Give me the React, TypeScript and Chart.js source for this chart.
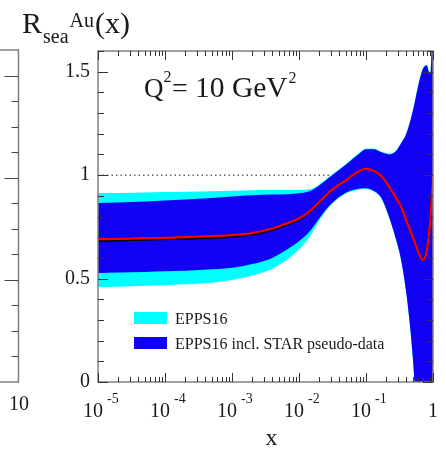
import React, { useEffect, useRef } from 'react';
import { Chart, registerables } from 'chart.js';

Chart.register(...registerables);

// x values (Bjorken x)
const xValues = [1e-5, 2e-5, 5e-5, 1e-4, 2e-4, 5e-4, 1e-3, 2e-3, 4e-3, 7e-3, 0.01, 0.015, 0.02, 0.03, 0.05, 0.08, 0.1, 0.13, 0.17, 0.22, 0.28, 0.33, 0.4, 0.5, 0.6, 0.7, 0.8, 0.9, 0.95, 1.0];

// central value EPPS16 incl. STAR (red)
const centralStar = [0.69, 0.692, 0.695, 0.697, 0.7, 0.705, 0.71, 0.72, 0.742, 0.77, 0.79, 0.83, 0.87, 0.925, 0.975, 1.02, 1.03, 1.02, 0.995, 0.945, 0.89, 0.85, 0.78, 0.7, 0.63, 0.59, 0.63, 0.76, 0.87, 1.0];
// central value EPPS16 (black)
const centralEpps = [0.683, 0.685, 0.688, 0.69, 0.693, 0.698, 0.703, 0.713, 0.735, 0.764, 0.785, 0.827, 0.868, 0.925, 0.975, 1.02, 1.03, 1.02, 0.995, 0.945, 0.89, 0.85, 0.78, 0.7, 0.63, 0.59, 0.63, 0.76, 0.87, 1.0];

// EPPS16 incl. STAR pseudo-data band (blue)
const starUpper = [0.865, 0.868, 0.873, 0.877, 0.882, 0.89, 0.897, 0.903, 0.906, 0.908, 0.912, 0.925, 0.95, 0.995, 1.05, 1.105, 1.125, 1.125, 1.11, 1.1, 1.115, 1.15, 1.2, 1.31, 1.43, 1.51, 1.53, 1.49, 1.6, 2.5];
const starLower = [0.527, 0.529, 0.532, 0.535, 0.538, 0.545, 0.552, 0.57, 0.6, 0.645, 0.68, 0.735, 0.79, 0.86, 0.915, 0.935, 0.937, 0.925, 0.89, 0.8, 0.69, 0.6, 0.43, 0.12, -0.3, -0.5, -0.6, -0.7, -0.8, -1.0];

// EPPS16 band (cyan)
const eppsUpper = [0.913, 0.914, 0.916, 0.918, 0.92, 0.922, 0.925, 0.927, 0.928, 0.928, 0.929, 0.933, 0.955, 0.999, 1.054, 1.109, 1.129, 1.129, 1.114, 1.104, 1.119, 1.154, 1.204, 1.314, 1.434, 1.514, 1.534, 1.494, 1.604, 2.5];
const eppsLower = [0.459, 0.461, 0.465, 0.468, 0.472, 0.48, 0.493, 0.515, 0.548, 0.597, 0.64, 0.71, 0.78, 0.855, 0.911, 0.931, 0.933, 0.921, 0.886, 0.796, 0.686, 0.596, 0.426, 0.116, -0.3, -0.5, -0.6, -0.7, -0.8, -1.0];

const yTickLabels = ['0', '0.5', '1', '1.5'];
const xDecades = [-5, -4, -3, -2, -1, 0];
const legendLabels = ['EPPS16', 'EPPS16 incl. STAR pseudo-data'];
const refLine = [1, 1];

const SERIF = '"Liberation Serif", "Times New Roman", "DejaVu Serif", serif';
const CYAN = '#00ffff';
const BLUE = '#1200f2';

function pts(ys: number[]) {
  return xValues.map((x, i) => ({ x, y: ys[i] }));
}

function txt(ctx: CanvasRenderingContext2D, s: string, x: number, y: number, size: number, align: CanvasTextAlign = 'left') {
  ctx.font = `${size}px ${SERIF}`;
  ctx.textAlign = align;
  ctx.textBaseline = 'alphabetic';
  ctx.fillText(s, x, y);
  return ctx.measureText(s).width;
}

const decorPlugin = {
  id: 'decor',
  afterDraw(chart: any) {
    const ctx: CanvasRenderingContext2D = chart.ctx;
    const xs = chart.scales.x;
    const ys = chart.scales.y;
    const { left, right, top, bottom } = chart.chartArea;
    ctx.save();

    // frame
    ctx.strokeStyle = '#808080';
    ctx.lineWidth = 1.5;
    ctx.strokeRect(left, top, right - left, bottom - top);

    // y ticks (inward, both sides)
    ctx.strokeStyle = '#333';
    ctx.lineWidth = 1;
    for (let k = 0; k <= 16; k++) {
      const v = k / 10;
      const y = Math.round(ys.getPixelForValue(v)) + 0.5;
      const len = k % 5 === 0 ? 10 : 6;
      ctx.beginPath();
      ctx.moveTo(left, y); ctx.lineTo(left + len, y);
      ctx.moveTo(right, y); ctx.lineTo(right - len, y);
      ctx.stroke();
    }
    // x ticks (log, inward, top & bottom)
    for (const d of xDecades) {
      for (let m = 1; m <= 9; m++) {
        const v = m * Math.pow(10, d);
        if (v > 1.0000001) break;
        const x = Math.round(xs.getPixelForValue(v)) + 0.5;
        const len = m === 1 ? 9 : 5;
        ctx.beginPath();
        ctx.moveTo(x, bottom); ctx.lineTo(x, bottom - len);
        ctx.moveTo(x, top); ctx.lineTo(x, top + len);
        ctx.stroke();
      }
    }

    ctx.fillStyle = '#1a1a1a';
    // y labels
    yTickLabels.forEach((lab) => {
      const y = ys.getPixelForValue(parseFloat(lab));
      txt(ctx, lab, left - 8, y + 5, 20, 'right');
    });
    // x labels
    xDecades.forEach((d) => {
      const x = xs.getPixelForValue(Math.pow(10, d));
      if (d === 0) {
        txt(ctx, '1', x, bottom + 35, 20, 'center');
      } else {
        txt(ctx, '10', x + 5, bottom + 35, 20, 'right');
        txt(ctx, String(d), x + 9, bottom + 21, 14, 'left');
      }
    });
    // axis title
    txt(ctx, 'x', (left + right) / 2 + 6, bottom + 63, 24, 'center');

    // plot title R_sea^Au(x)
    let cx = 22;
    cx += txt(ctx, 'R', cx, 33, 30);
    const w1 = txt(ctx, 'sea', cx + 1, 43, 20);
    txt(ctx, 'Au', cx + 1 + w1 + 1, 27, 20);
    const w2 = ctx.measureText('Au').width;
    txt(ctx, '(x)', cx + 1 + w1 + 1 + w2 + 1, 33, 30);

    // Q^2 annotation
    const wQ = txt(ctx, 'Q', 144, 97, 27);
    txt(ctx, '2', 144 + wQ, 82, 16);
    txt(ctx, '=', 172, 97, 28);
    const wq = txt(ctx, '10 GeV', 195, 97, 29.5);
    txt(ctx, '2', 195 + wq + 1, 83, 16);

    // legend
    const lx = 134;
    const boxW = 33, boxH = 12;
    const rows = [312, 337];
    const cols = [CYAN, BLUE];
    legendLabels.forEach((lab, i) => {
      ctx.fillStyle = cols[i];
      ctx.fillRect(lx, rows[i], boxW, boxH);
      ctx.fillStyle = '#1a1a1a';
      txt(ctx, lab, lx + 41, rows[i] + 12, 16);
    });

    // partial neighbouring panel on the left
    const px = 18.5;
    ctx.strokeStyle = '#808080';
    ctx.lineWidth = 1.5;
    ctx.beginPath();
    ctx.moveTo(0, top - 1); ctx.lineTo(px, top - 1); ctx.lineTo(px, bottom); ctx.lineTo(0, bottom);
    ctx.stroke();
    ctx.strokeStyle = '#444';
    ctx.lineWidth = 1;
    const step = (bottom - top) / 12.97;
    for (let k = 1; k <= 12; k++) {
      const y = Math.round(bottom - k * step) + 0.5;
      const len = k % 4 === 0 ? 14 : 7;
      ctx.beginPath();
      ctx.moveTo(px, y); ctx.lineTo(px - len, y);
      ctx.stroke();
    }
    ctx.fillStyle = '#1a1a1a';
    txt(ctx, '10', 19, bottom + 28, 20, 'center');

    ctx.restore();
  },
};

export default function App() {
  const ref = useRef<HTMLCanvasElement | null>(null);
  useEffect(() => {
    if (!ref.current) return;
    const common = { pointRadius: 0, cubicInterpolationMode: 'monotone' as const };
    const chart = new Chart(ref.current, {
      type: 'line',
      data: {
        datasets: [
          { ...common, label: 'EPPS16 up', data: pts(eppsUpper), fill: '+1', backgroundColor: CYAN, borderWidth: 0, borderColor: CYAN, order: 3 },
          { ...common, label: 'EPPS16 low', data: pts(eppsLower), fill: false, borderWidth: 0, borderColor: CYAN, order: 3 },
          { ...common, label: 'STAR up', data: pts(starUpper), fill: '+1', backgroundColor: BLUE, borderWidth: 0, borderColor: BLUE, order: 2 },
          { ...common, label: 'STAR low', data: pts(starLower), fill: false, borderWidth: 0, borderColor: BLUE, order: 2 },
          { ...common, label: 'EPPS16 central', data: pts(centralEpps), fill: false, borderWidth: 2.2, borderColor: '#000000', order: 1 },
          { ...common, label: 'STAR central', data: pts(centralStar), fill: false, borderWidth: 2.2, borderColor: '#ff0000', order: 0 },
          { pointRadius: 0, label: 'one', data: [{ x: 1e-5, y: refLine[0] }, { x: 1, y: refLine[1] }], fill: false, borderWidth: 1.5, borderColor: '#666666', borderDash: [1.5, 3], order: 4 },
        ],
      },
      options: {
        animation: false,
        responsive: false,
        maintainAspectRatio: false,
        parsing: false as any,
        layout: { padding: { left: 98, right: 13, top: 51, bottom: 68 } },
        scales: {
          x: { type: 'logarithmic', min: 1e-5, max: 1, display: false },
          y: { type: 'linear', min: 0, max: 1.6, display: false },
        },
        plugins: { legend: { display: false }, tooltip: { enabled: false } },
        events: [],
      },
      plugins: [decorPlugin],
    });
    return () => chart.destroy();
  }, []);
  return (
    <div style={{ position: 'fixed', left: 0, top: 0, width: 446, height: 450, background: '#fff' }}>
      <canvas ref={ref} width={446} height={450} style={{ width: 446, height: 450, display: 'block' }} />
    </div>
  );
}
